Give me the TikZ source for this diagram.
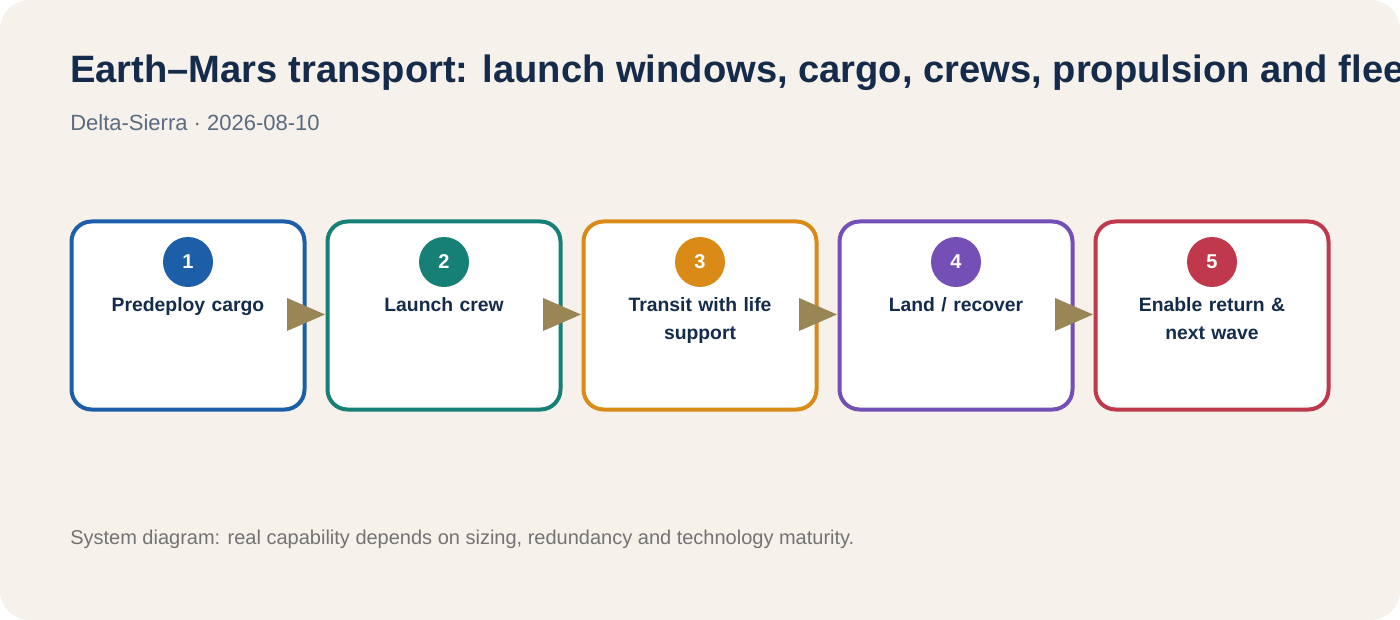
\documentclass[tikz,border=0pt]{standalone}
\usepackage{fontspec}
\setmainfont{Liberation Sans}
\begin{document}
\begin{tikzpicture}[x=0.75pt,y=-0.75pt,
  box/.style={draw=#1,line width=3pt,fill=white,rounded corners=15pt,minimum width=233*0.75pt,minimum height=188*0.75pt,anchor=north west},
  num/.style={circle,fill=#1,minimum size=50*0.75pt,inner sep=0pt,text=white,font=\bfseries\fontsize{15}{18}\selectfont},
  lab/.style={text=textc,font=\bfseries\fontsize{14.5}{21}\selectfont,align=center,anchor=north,text width=170pt},
  arr/.style={fill=arrc}]
\definecolor{bg}{HTML}{F6F1EA}
\definecolor{textc}{HTML}{142B4C}
\definecolor{arrc}{HTML}{9A8557}
\definecolor{c1}{HTML}{1C5EA8}
\definecolor{c2}{HTML}{168076}
\definecolor{c3}{HTML}{DA8B17}
\definecolor{c4}{HTML}{744FB6}
\definecolor{c5}{HTML}{C0384C}
\useasboundingbox (0,0) rectangle (1400,620);
\begin{scope}
\clip[rounded corners=22pt] (0,0) rectangle (1400,620);
\fill[bg] (0,0) rectangle (1400,620);
\node[anchor=west,text=textc,font=\bfseries\fontsize{28.6}{34}\selectfont,inner sep=0pt] (title) at (70,73) {Earth–Mars transport: launch windows, cargo, crews, propulsion and fleet};
\end{scope}
\node[anchor=west,text=textc!70!white,font=\fontsize{16.5}{20}\selectfont,inner sep=0pt] (sub) at (70,123) {Delta-Sierra · 2026-08-10};
\node[anchor=west,text=black!55,font=\fontsize{15}{18}\selectfont,inner sep=0pt] (foot) at (70,539) {System diagram: real capability depends on sizing, redundancy and technology maturity.};
\foreach \i/\x/\c/\t in {1/70/c1/{Predeploy cargo},2/326/c2/{Launch crew},3/582/c3/{Transit with life\\support},4/838/c4/{Land / recover},5/1094/c5/{Enable return \&\\next wave}}{
  \node[box=\c] (b\i) at (\x-0.5,219.5) {};
  \node[num=\c] (n\i) at (\x+118,262) {\i};
  \node[lab] (l\i) at (\x+118,293) {\t};
}
\foreach \i/\x in {1/287,2/543,3/799,4/1055}{
  \coordinate (a\i) at (\x,298);
  \fill[arrc] (a\i) -- ++(0,33) -- ++(38,-16.5) -- cycle;
}
\end{tikzpicture}
\end{document}
